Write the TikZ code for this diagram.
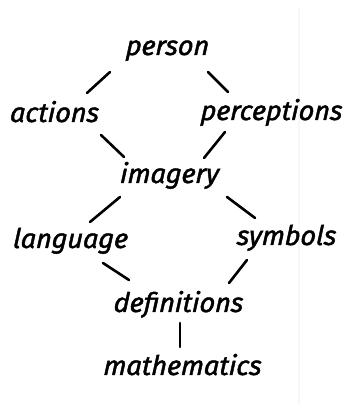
\documentclass[tikz,border=0pt]{standalone}
\usepackage{fontspec}
\newfontfamily\hand[FakeBold=1.6,FakeSlant=0.08]{Fira Sans}
\tikzset{
  word/.style={anchor=base, inner sep=0pt, font=\hand\itshape\fontsize{27}{29}\selectfont},
  link/.style={line width=2.6pt, line cap=round, black},
}
\begin{document}
\begin{tikzpicture}[x=1pt,y=1pt]
\useasboundingbox (0,0) rectangle (346,406);
\fill[white] (0,0) rectangle (346,406);
\draw[black!3, line width=1.5pt] (299,399) -- (299,1);
\node[word] (person) at (167,351) {person};
\node[word] (actions) at (54,284) {actions};
\node[word] (perceptions) at (271,286) {perceptions};
\node[word] (imagery) at (169,223) {imagery};
\node[word] (language) at (70,158) {language};
\node[word] (symbols) at (286,161) {symbols};
\node[word] (definitions) at (178,94) {definitions};
\node[word] (mathematics) at (182,31) {mathematics};
\draw[link] ([shift={(-57pt,-17pt)}]person.base) -- ([shift={(33pt,29pt)}]actions.base);
\draw[link] ([shift={(41pt,-17pt)}]person.base) -- ([shift={(-43pt,28pt)}]perceptions.base);
\draw[link] ([shift={(47pt,-13pt)}]actions.base) -- ([shift={(-45pt,26pt)}]imagery.base);
\draw[link] ([shift={(-46pt,-12pt)}]perceptions.base) -- ([shift={(35pt,25pt)}]imagery.base);
\draw[link] ([shift={(-49pt,-14pt)}]imagery.base) -- ([shift={(20pt,26pt)}]language.base);
\draw[link] ([shift={(58pt,-14pt)}]imagery.base) -- ([shift={(-31pt,27pt)}]symbols.base);
\draw[link] ([shift={(33pt,-15pt)}]language.base) -- ([shift={(-49pt,32pt)}]definitions.base);
\draw[link] ([shift={(-39pt,-15pt)}]symbols.base) -- ([shift={(51pt,29pt)}]definitions.base);
\draw[link] ([shift={(2pt,-11pt)}]definitions.base) -- ([shift={(-2pt,28pt)}]mathematics.base);
\end{tikzpicture}
\end{document}
